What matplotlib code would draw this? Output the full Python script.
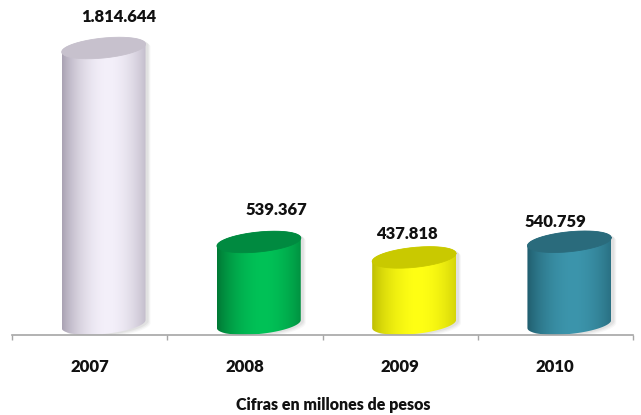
import numpy as np
import matplotlib
matplotlib.use("Agg")
import matplotlib.pyplot as plt
from matplotlib.path import Path
from matplotlib.patches import PathPatch
from matplotlib import transforms
from matplotlib.colors import to_rgb

# ---- data ----
years = ["2007", "2008", "2009", "2010"]
values = [1814644, 539367, 437818, 540759]
value_labels = ["1.814.644", "539.367", "437.818", "540.759"]
caption = "Cifras en millones de pesos"

# body highlight, body edge, top face
light_colors = ["#F4F0FA", "#00C257", "#FFFF14", "#3C95AC"]
dark_colors = ["#9C94A6", "#006A2E", "#B3B300", "#1B5362"]
top_colors = ["#C7C1CD", "#008A40", "#C9C900", "#2A6B7C"]

# label offsets (points) from each cylinder's top centre
label_offsets = [(11, 22), (13, 23), (-5, 17), (-10, 14)]

plt.rcParams["font.family"] = ["Lato", "DejaVu Sans"]
TEXT_W = "heavy"

fig = plt.figure(figsize=(6.41, 4.15), dpi=100)
ax = fig.add_axes([12 / 641, 80 / 415, 621 / 641, 335 / 415])

px_per_unit = 276 / 1814644.0
ax.set_xlim(-0.5, 3.5)
ax.set_ylim(-11 / px_per_unit, 324 / px_per_unit)

x_shift = 0.09          # cylinders drawn slightly right of category centre
half_w = 0.27           # half width in x units
ell_b = 10 / px_per_unit  # ellipse semi-height in data units
shear = 4 / px_per_unit   # rise of right side of the ellipse

t = np.linspace(0, 2 * np.pi, 200)


def ellipse_pts(cx, cy, tt):
    return np.column_stack([cx + half_w * np.cos(tt),
                            cy + ell_b * np.sin(tt) + shear * np.cos(tt)])


def body_path(cx, top):
    lower = ellipse_pts(cx, 0, np.linspace(np.pi, 2 * np.pi, 100))
    upper = ellipse_pts(cx, top, np.linspace(0, np.pi, 100))
    pts = np.vstack([lower, upper, lower[:1]])
    codes = [Path.MOVETO] + [Path.LINETO] * (len(pts) - 2) + [Path.CLOSEPOLY]
    return Path(pts, codes)


u = np.linspace(0, 1, 256)
profile = np.clip(1 - np.abs((u - 0.55) / 0.58) ** 1.8, 0, 1) ** 0.8

for i, (v, lc, dc, tc) in enumerate(zip(values, light_colors, dark_colors, top_colors)):
    cx = i + x_shift
    path = body_path(cx, v)

    # soft drop shadow
    for dx, dy, a in [(5, -3, 0.06), (4, -2, 0.08), (3, -1, 0.10)]:
        sh_tr = transforms.offset_copy(ax.transData, fig=fig, x=dx, y=dy, units="dots")
        ax.add_patch(PathPatch(path, facecolor="#808080", edgecolor="none",
                               alpha=a, transform=sh_tr, zorder=1))

    # shaded body
    l = np.array(to_rgb(lc))
    d = np.array(to_rgb(dc))
    grad = d[None, :] + (l - d)[None, :] * profile[:, None]
    img = grad[None, :, :]
    clip = PathPatch(path, facecolor="none", edgecolor="none", transform=ax.transData)
    ax.add_patch(clip)
    im = ax.imshow(img, extent=[cx - half_w, cx + half_w, -ell_b - shear, v + ell_b + shear],
                   aspect="auto", interpolation="bilinear", zorder=2)
    im.set_clip_path(clip)

    # top face
    top = ellipse_pts(cx, v, t)
    ax.fill(top[:, 0], top[:, 1], color=tc, zorder=3, lw=0)
    ax.plot(top[:, 0], top[:, 1], color=tc, lw=0.6, zorder=3)

    # value label
    ax.annotate(value_labels[i], xy=(cx, v), xytext=label_offsets[i],
                textcoords="offset points", ha="center", va="center",
                fontsize=12, fontweight=TEXT_W, color="#111111", zorder=5,
                annotation_clip=False)

ax.set_xticks(np.arange(-0.5, 4.0, 1.0))
ax.set_xticklabels([])
ax.tick_params(axis="x", direction="out", length=3.6, width=1.0, color="#A6A6A6")
ax.set_yticks([])
for side in ["top", "left", "right"]:
    ax.spines[side].set_visible(False)
ax.spines["bottom"].set_color("#A6A6A6")
ax.spines["bottom"].set_linewidth(1.2)

year_tr = transforms.blended_transform_factory(ax.transData, ax.transAxes)
for i, yr in enumerate(years):
    ax.annotate(yr, xy=(i, 0), xycoords=year_tr, xytext=(0, -23),
                textcoords="offset points", ha="center", va="center",
                fontsize=12, fontweight=TEXT_W, color="#111111",
                annotation_clip=False)

fig.text(333 / 641, 10 / 415, caption, ha="center", va="center",
         fontsize=11.5, fontweight=TEXT_W, color="#111111")

fig.savefig("out.png", dpi=100)
